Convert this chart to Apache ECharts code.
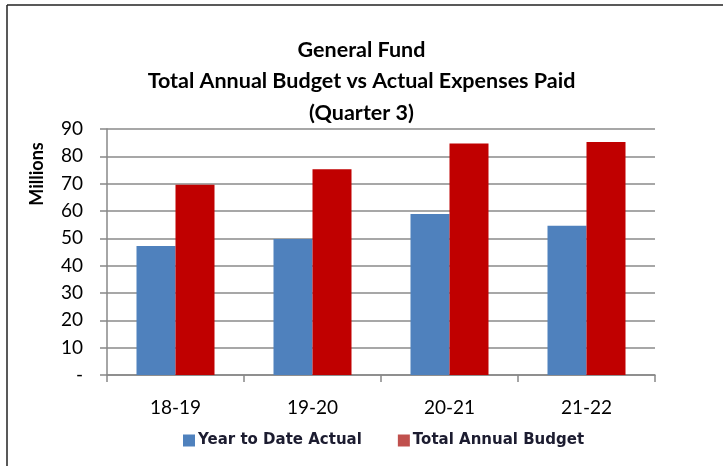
<!DOCTYPE html>
<html>
<head>
<meta charset="utf-8">
<script src="https://cdn.jsdelivr.net/npm/echarts@6/dist/echarts.min.js"></script>
<style>html,body{margin:0;padding:0;background:#fff}#c{width:723px;height:466px}</style>
</head>
<body>
<div id="c"></div>
<script>
const categories = ['18-19', '19-20', '20-21', '21-22'];
const ytdActual = [47.2, 49.8, 58.9, 54.6];
const annualBudget = [69.6, 75.3, 84.7, 85.2];
const yTicks = [0, 10, 20, 30, 40, 50, 60, 70, 80, 90];
const titleLines = ['General Fund', 'Total Annual Budget vs Actual Expenses Paid', '(Quarter 3)'];
const seriesNames = ['Year to Date Actual', 'Total Annual Budget'];
const yAxisTitle = 'Millions';

const FONT = 'Lato, "Open Sans", sans-serif';
const chart = echarts.init(document.getElementById('c'), null, {renderer: 'canvas'});
chart.setOption({
  animation: false,
  backgroundColor: '#fff',
  title: {
    text: titleLines.join('\n'),
    left: 'center', top: 29,
    textStyle: {fontFamily: FONT, fontSize: 21.5, fontWeight: 'bold', color: '#000', lineHeight: 31.5}
  },
  legend: {
    data: [
      {name: seriesNames[0], itemStyle: {color: '#4F81BD'}},
      {name: seriesNames[1], itemStyle: {color: '#C0504D'}}
    ],
    top: 428, left: 178,
    itemWidth: 12, itemHeight: 12, itemGap: 36,
    icon: 'rect',
    textStyle: {fontFamily: '"DejaVu Sans", sans-serif', fontSize: 15, fontWeight: 'bold', color: '#1c1c30', padding: [0, 0, 0, -2]}
  },
  grid: {left: 107, right: 68, top: 129, bottom: 91},
  xAxis: {
    type: 'category', data: categories,
    axisLine: {lineStyle: {color: '#888', width: 1.5}},
    axisTick: {show: true, length: 7, lineStyle: {color: '#888', width: 1.5}},
    axisLabel: {fontFamily: FONT, fontSize: 19, color: '#000', margin: 23}
  },
  yAxis: {
    type: 'value', min: 0, max: 90, interval: 10,
    axisLine: {show: true, lineStyle: {color: '#888', width: 1.5}},
    axisTick: {show: true, length: 7, lineStyle: {color: '#888', width: 1.5}},
    splitLine: {lineStyle: {color: '#8a8a8a', width: 1.5}},
    axisLabel: {
      fontFamily: FONT, fontSize: 19, color: '#000', margin: 24,
      formatter: v => (yTicks.indexOf(v) >= 0 ? (v === 0 ? '-' : String(v)) : '')
    }
  },
  series: [
    {name: seriesNames[0], type: 'bar', data: ytdActual, barWidth: 39, barGap: '0%',
     itemStyle: {color: '#4F81BD'}},
    {name: seriesNames[1], type: 'bar', data: annualBudget, barWidth: 39, barGap: '0%',
     itemStyle: {color: '#C00000'}}
  ],
  graphic: [
    {type: 'line', shape: {x1: 7, y1: 5, x2: 723, y2: 5}, style: {stroke: '#222', lineWidth: 1.5}, silent: true},
    {type: 'line', shape: {x1: 7, y1: 5, x2: 7, y2: 466}, style: {stroke: '#222', lineWidth: 1.5}, silent: true},
    {type: 'text', x: 37, y: 174, rotation: Math.PI / 2, silent: true,
     style: {text: yAxisTitle, fontFamily: FONT, fontSize: 18, fontWeight: 'bold', fill: '#000',
             align: 'center', verticalAlign: 'middle'}}
  ]
});
</script>
</body>
</html>
